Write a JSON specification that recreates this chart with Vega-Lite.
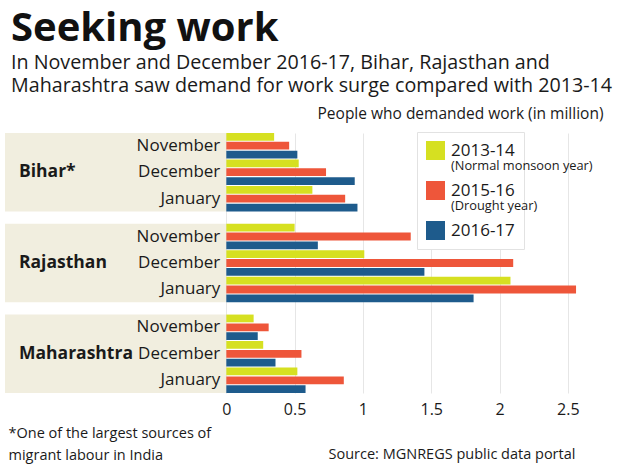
{
  "$schema": "https://vega.github.io/schema/vega-lite/v6.json",
  "autosize": {"type": "none"},
  "width": 597,
  "height": 260,
  "padding": {"left": 5, "top": 133, "right": 28, "bottom": 74},
  "background": "white",
  "config": {
    "view": {"stroke": null},
    "font": "Open Sans",
    "text": {"font": "Open Sans", "color": "#1a1a1a"}
  },
  "title": {
    "text": "Seeking work",
    "subtitle": ["In November and December 2016-17, Bihar, Rajasthan and", "Maharashtra saw demand for work surge compared with 2013-14"],
    "anchor": "start",
    "frame": "group",
    "dx": 6,
    "offset": 10,
    "font": "Open Sans",
    "fontSize": 40,
    "fontWeight": "bold",
    "color": "#111",
    "subtitleFont": "Open Sans",
    "subtitleFontSize": 19.7,
    "subtitleColor": "#1a1a1a",
    "subtitleLineHeight": 23.5,
    "subtitlePadding": 4
  },
  "data": {
    "values": [
      {"state": "Bihar*", "month": "November", "year": "2013-14", "value": 0.35},
      {"state": "Bihar*", "month": "November", "year": "2015-16", "value": 0.46},
      {"state": "Bihar*", "month": "November", "year": "2016-17", "value": 0.52},
      {"state": "Bihar*", "month": "December", "year": "2013-14", "value": 0.53},
      {"state": "Bihar*", "month": "December", "year": "2015-16", "value": 0.73},
      {"state": "Bihar*", "month": "December", "year": "2016-17", "value": 0.94},
      {"state": "Bihar*", "month": "January", "year": "2013-14", "value": 0.63},
      {"state": "Bihar*", "month": "January", "year": "2015-16", "value": 0.87},
      {"state": "Bihar*", "month": "January", "year": "2016-17", "value": 0.96},
      {"state": "Rajasthan", "month": "November", "year": "2013-14", "value": 0.50},
      {"state": "Rajasthan", "month": "November", "year": "2015-16", "value": 1.35},
      {"state": "Rajasthan", "month": "November", "year": "2016-17", "value": 0.67},
      {"state": "Rajasthan", "month": "December", "year": "2013-14", "value": 1.01},
      {"state": "Rajasthan", "month": "December", "year": "2015-16", "value": 2.10},
      {"state": "Rajasthan", "month": "December", "year": "2016-17", "value": 1.45},
      {"state": "Rajasthan", "month": "January", "year": "2013-14", "value": 2.08},
      {"state": "Rajasthan", "month": "January", "year": "2015-16", "value": 2.56},
      {"state": "Rajasthan", "month": "January", "year": "2016-17", "value": 1.81},
      {"state": "Maharashtra", "month": "November", "year": "2013-14", "value": 0.20},
      {"state": "Maharashtra", "month": "November", "year": "2015-16", "value": 0.31},
      {"state": "Maharashtra", "month": "November", "year": "2016-17", "value": 0.23},
      {"state": "Maharashtra", "month": "December", "year": "2013-14", "value": 0.27},
      {"state": "Maharashtra", "month": "December", "year": "2015-16", "value": 0.55},
      {"state": "Maharashtra", "month": "December", "year": "2016-17", "value": 0.36},
      {"state": "Maharashtra", "month": "January", "year": "2013-14", "value": 0.52},
      {"state": "Maharashtra", "month": "January", "year": "2015-16", "value": 0.86},
      {"state": "Maharashtra", "month": "January", "year": "2016-17", "value": 0.58}
    ]
  },
  "transform": [{"calculate": "datum.month + ' ' + datum.year", "as": "slot"}],
  "resolve": {"axis": {"x": "independent", "y": "independent"}},
  "layer": [
    {
      "transform": [{"filter": "datum.month == 'December' && datum.year == '2015-16'"}],
      "mark": {"type": "rect", "color": "#f1eedf"},
      "encoding": {
        "y": {"field": "state", "type": "nominal", "sort": ["Bihar*", "Rajasthan", "Maharashtra"],
              "scale": {"paddingInner": 0.136, "paddingOuter": 0}, "axis": null},
        "x": {"datum": -1.62, "type": "quantitative",
              "scale": {"domain": [-1.62, 2.75], "nice": false, "zero": false},
              "axis": {"orient": "top", "labels": false, "ticks": false, "domain": false, "grid": false,
                       "title": "People who demanded work (in million)", "titleFontSize": 15.5,
                       "titleFontWeight": "normal", "titleColor": "#1a1a1a", "titleAlign": "right",
                       "titleAnchor": null, "titleX": 598, "titleY": -15, "titleBaseline": "alphabetic"}},
        "x2": {"datum": 0}
      }
    },
    {
      "mark": {"type": "bar"},
      "encoding": {
        "y": {"field": "state", "type": "nominal", "sort": ["Bihar*", "Rajasthan", "Maharashtra"],
              "axis": {"labels": false, "ticks": false, "domain": false, "grid": false,
                       "title": ["*One of the largest sources of", "migrant labour in India"],
                       "titleAngle": 0, "titleAlign": "left", "titleBaseline": "alphabetic",
                       "titleX": 3, "titleY": 304, "titleFontSize": 14.5, "titleFontWeight": "normal",
                       "titleColor": "#1a1a1a", "titleLineHeight": 22, "titleAnchor": null}},
        "yOffset": {"field": "slot", "type": "nominal",
                    "sort": ["November 2013-14", "November 2015-16", "November 2016-17", "December 2013-14", "December 2015-16", "December 2016-17", "January 2013-14", "January 2015-16", "January 2016-17"],
                    "scale": {"domain": ["November 2013-14", "November 2015-16", "November 2016-17", "December 2013-14", "December 2015-16", "December 2016-17", "January 2013-14", "January 2015-16", "January 2016-17"], "paddingInner": 0.12, "paddingOuter": 0}},
        "x": {"field": "value", "type": "quantitative",
              "axis": {"orient": "bottom", "values": [0, 0.5, 1, 1.5, 2, 2.5], "format": ".1~f", "grid": true, "gridColor": "#e6e6e6",
                       "domain": false, "ticks": false, "labelFontSize": 16, "labelColor": "#1a1a1a",
                       "labelPadding": 8, "labelFont": "Open Sans",
                       "title": "Source: MGNREGS public data portal", "titleFontSize": 14.5,
                       "titleFontWeight": "normal", "titleColor": "#1a1a1a", "titleAlign": "left",
                       "titleAnchor": null, "titleX": 323, "titleY": 65, "titleBaseline": "alphabetic"}},
        "color": {"field": "year", "type": "nominal",
                  "scale": {"domain": ["2013-14", "2015-16", "2016-17"], "range": ["#d6e021", "#ee563a", "#1e5b8c"]},
                  "legend": {"orient": "none", "legendX": 412, "legendY": -1, "title": null,
                             "fillColor": "white", "strokeColor": "#e2e2e2", "padding": 9,
                             "symbolType": "square", "symbolSize": 361, "symbolStrokeWidth": 0,
                             "labelFontSize": 17, "labelColor": "#1a1a1a", "labelFont": "Open Sans",
                             "labelLimit": 400, "rowPadding": 21, "labelOffset": 6, "labelBaseline": "middle",
                             "labelExpr": "pad(datum.label, 33)"}}
      }
    },
    {
      "mark": {"type": "point", "opacity": 0},
      "encoding": {
        "y": {"field": "state", "type": "nominal", "sort": ["Bihar*", "Rajasthan", "Maharashtra"], "axis": null},
        "x": {"field": "value", "type": "quantitative", "axis": null},
        "shape": {"field": "year", "type": "nominal",
                  "scale": {"domain": ["2013-14", "2015-16"], "range": ["square", "square"]},
                  "legend": {"orient": "none", "legendX": 412, "legendY": 14, "title": null,
                             "padding": 9, "symbolSize": 361, "symbolOpacity": 0, "symbolStrokeWidth": 0,
                             "symbolFillColor": "white",
                             "labelFontSize": 12.8, "labelColor": "#1a1a1a", "labelFont": "Open Sans",
                             "labelLimit": 400, "rowPadding": 21, "labelOffset": 6, "labelBaseline": "middle",
                             "labelExpr": "datum.label == '2013-14' ? '(Normal monsoon year)' : '(Drought year)'"}}
      }
    },
    {
      "transform": [{"filter": "datum.year == '2015-16'"}],
      "mark": {"type": "text", "align": "right", "baseline": "middle", "dx": -6, "fontSize": 17},
      "encoding": {
        "y": {"field": "state", "type": "nominal", "sort": ["Bihar*", "Rajasthan", "Maharashtra"], "axis": null},
        "yOffset": {"field": "slot", "type": "nominal", "sort": ["November 2013-14", "November 2015-16", "November 2016-17", "December 2013-14", "December 2015-16", "December 2016-17", "January 2013-14", "January 2015-16", "January 2016-17"]},
        "x": {"datum": 0, "type": "quantitative", "axis": null},
        "text": {"field": "month"}
      }
    },
    {
      "transform": [{"filter": "datum.month == 'December' && datum.year == '2015-16'"}],
      "mark": {"type": "text", "align": "left", "baseline": "middle", "dx": 14, "fontSize": 17.5, "fontWeight": "bold"},
      "encoding": {
        "y": {"field": "state", "type": "nominal", "sort": ["Bihar*", "Rajasthan", "Maharashtra"], "axis": null},
        "yOffset": {"field": "slot", "type": "nominal", "sort": ["November 2013-14", "November 2015-16", "November 2016-17", "December 2013-14", "December 2015-16", "December 2016-17", "January 2013-14", "January 2015-16", "January 2016-17"]},
        "x": {"datum": -1.62, "type": "quantitative", "axis": null},
        "text": {"field": "state"}
      }
    }
  ]
}
